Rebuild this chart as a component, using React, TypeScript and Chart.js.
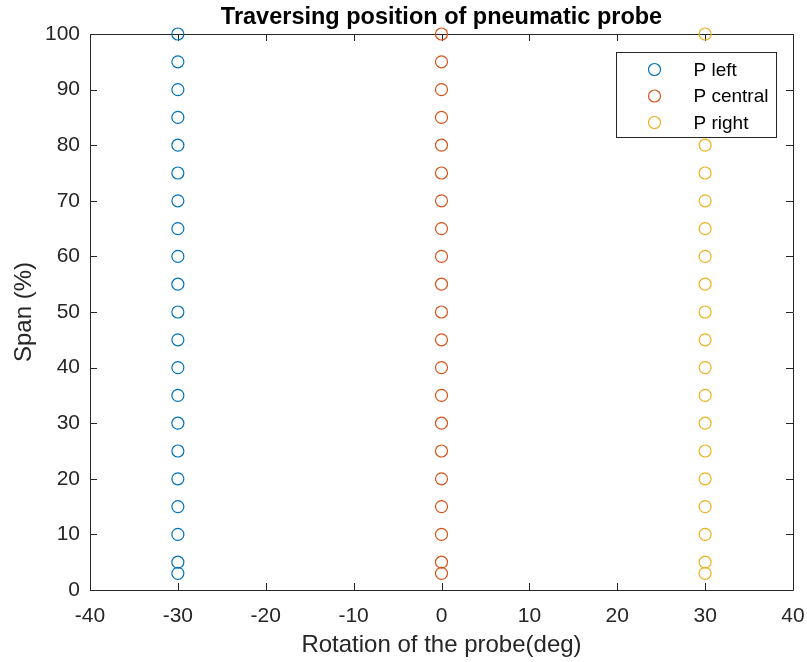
import React, { useEffect, useRef } from "react";
import { Chart, registerables } from "chart.js";

Chart.register(...registerables);

const spanValues = [3, 5, 10, 15, 20, 25, 30, 35, 40, 45, 50, 55, 60, 65, 70, 75, 80, 85, 90, 95, 100];
const seriesLabels = ["P left", "P central", "P right"];
const seriesAngles = [-30, 0, 30];
const seriesColors = ["#0072BD", "#D95319", "#EDB120"];
const xTickValues = [-40, -30, -20, -10, 0, 10, 20, 30, 40];
const yTickValues = [0, 10, 20, 30, 40, 50, 60, 70, 80, 90, 100];

const FONT = "'Liberation Sans', Arial, Helvetica, sans-serif";
const AXIS_COLOR = "#262626";

const boxPlugin = {
  id: "matlabBox",
  beforeDatasetsDraw(chart: any) {
    const { ctx, chartArea, scales } = chart;
    const { left, right, top, bottom } = chartArea;
    const tl = 7;
    ctx.save();
    ctx.strokeStyle = AXIS_COLOR;
    ctx.lineWidth = 1;
    ctx.beginPath();
    ctx.rect(Math.round(left) + 0.5, Math.round(top) + 0.5, Math.round(right - left), Math.round(bottom - top));
    ctx.stroke();
    ctx.beginPath();
    xTickValues.forEach((v) => {
      const px = Math.round(scales.x.getPixelForValue(v)) + 0.5;
      ctx.moveTo(px, bottom);
      ctx.lineTo(px, bottom - tl);
      ctx.moveTo(px, top);
      ctx.lineTo(px, top + tl);
    });
    yTickValues.forEach((v) => {
      const py = Math.round(scales.y.getPixelForValue(v)) + 0.5;
      ctx.moveTo(left, py);
      ctx.lineTo(left + tl, py);
      ctx.moveTo(right, py);
      ctx.lineTo(right - tl, py);
    });
    ctx.stroke();
    ctx.restore();
  },
  afterDatasetsDraw(chart: any) {
    const { ctx, chartArea } = chart;
    const w = 160;
    const h = 85;
    const lx = Math.round(chartArea.right - 17 - w) + 0.5;
    const ly = Math.round(chartArea.top + 18) + 0.5;
    ctx.save();
    ctx.fillStyle = "#ffffff";
    ctx.fillRect(lx, ly, w, h);
    ctx.strokeStyle = AXIS_COLOR;
    ctx.lineWidth = 1;
    ctx.strokeRect(lx, ly, w, h);
    ctx.font = `19px ${FONT}`;
    ctx.textBaseline = "middle";
    ctx.textAlign = "left";
    chart.data.datasets.forEach((ds: any, i: number) => {
      const cy = ly + 17 + i * 26.5;
      ctx.beginPath();
      ctx.strokeStyle = ds.borderColor;
      ctx.lineWidth = 1.2;
      ctx.arc(lx + 38, cy, 6, 0, Math.PI * 2);
      ctx.stroke();
      ctx.fillStyle = "#000000";
      ctx.fillText(ds.label, lx + 77, cy + 1);
    });
    ctx.restore();
  },
};

export default function App() {
  const canvasRef = useRef<HTMLCanvasElement | null>(null);

  useEffect(() => {
    const canvas = canvasRef.current;
    if (!canvas) return;
    const datasets = seriesLabels.map((label, i) => ({
      label,
      data: spanValues.map((s) => ({ x: seriesAngles[i], y: s })),
      borderColor: seriesColors[i],
      backgroundColor: "rgba(0,0,0,0)",
      pointRadius: 6,
      pointHoverRadius: 6,
      pointBorderWidth: 1.2,
      showLine: false,
      clip: false as any,
    }));
    const chart = new Chart(canvas, {
      type: "scatter",
      data: { datasets },
      plugins: [boxPlugin],
      options: {
        responsive: false,
        animation: false,
        devicePixelRatio: 1,
        layout: { padding: { left: 0, right: 14, top: 0, bottom: 0 } },
        plugins: {
          legend: { display: false },
          tooltip: { enabled: false },
          title: {
            display: true,
            fullSize: false,
            text: "Traversing position of pneumatic probe",
            color: "#000000",
            font: { family: FONT, size: 23.5, weight: "bold" },
            padding: { top: 3.5, bottom: 2.3 },
          },
        },
        scales: {
          x: {
            type: "linear",
            min: -40,
            max: 40,
            afterBuildTicks: (scale: any) => {
              scale.ticks = xTickValues.map((v) => ({ value: v }));
            },
            afterFit: (scale: any) => {
              scale.height = 72;
              scale.paddingLeft = 0;
              scale.paddingRight = 0;
            },
            grid: { display: false, drawTicks: false },
            border: { display: false },
            ticks: {
              color: AXIS_COLOR,
              font: { family: FONT, size: 21 },
              padding: 14,
              maxRotation: 0,
              autoSkip: false,
            },
            title: {
              display: true,
              text: "Rotation of the probe(deg)",
              color: AXIS_COLOR,
              font: { family: FONT, size: 24 },
              padding: { top: 0, bottom: 2 },
            },
          },
          y: {
            type: "linear",
            min: 0,
            max: 100,
            afterBuildTicks: (scale: any) => {
              scale.ticks = yTickValues.map((v) => ({ value: v }));
            },
            afterFit: (scale: any) => {
              scale.width = 90;
              scale.paddingTop = 0;
              scale.paddingBottom = 0;
            },
            grid: { display: false, drawTicks: false },
            border: { display: false },
            ticks: {
              color: AXIS_COLOR,
              font: { family: FONT, size: 21 },
              padding: 10,
              autoSkip: false,
            },
            title: {
              display: true,
              text: "Span (%)",
              color: AXIS_COLOR,
              font: { family: FONT, size: 24 },
              padding: { top: 10, bottom: 0 },
            },
          },
        },
      },
    });
    return () => chart.destroy();
  }, []);

  return (
    <div style={{ position: "absolute", left: 0, top: 0, width: 807, height: 662, background: "#ffffff" }}>
      <canvas ref={canvasRef} width={807} height={662} style={{ display: "block" }} />
    </div>
  );
}
